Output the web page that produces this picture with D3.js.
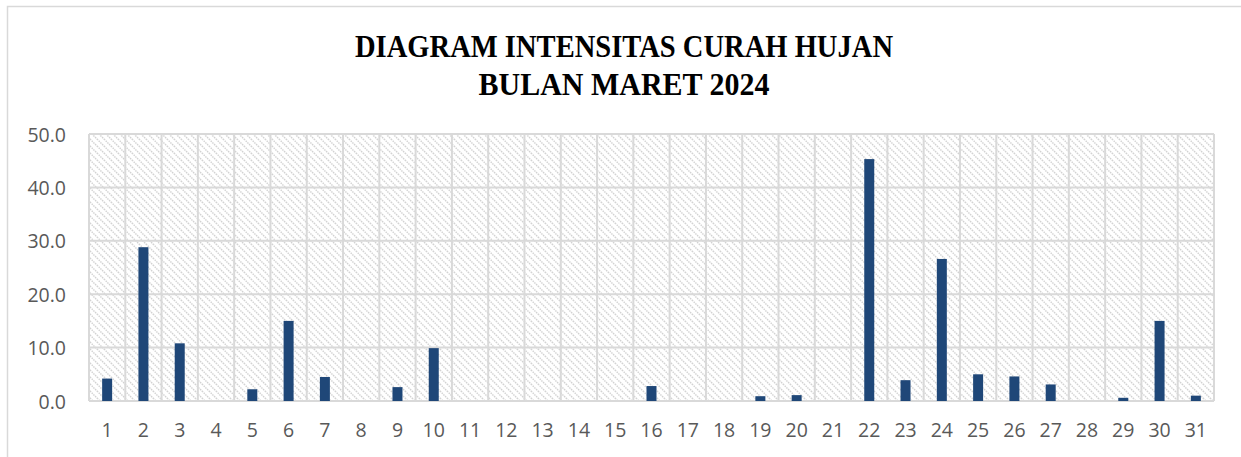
<!DOCTYPE html>
<html>
<head>
    <title>Diagram Intensitas Curah Hujan</title>
    <script src="https://d3js.org/d3.v7.min.js"></script>
    <style>
        body { margin: 0; background: #fff; }
        svg { display: block; }
    </style>
</head>
<body>
    <svg id="chart"></svg>

    <script>
        const titleLines = ["DIAGRAM INTENSITAS CURAH HUJAN", "BULAN MARET 2024"];
        const titleWidths = [538, 291];
        const days = d3.range(1, 32).map(String);
        const rainfall = [4.2, 28.8, 10.8, 0, 2.2, 15.0, 4.5, 0, 2.6, 9.9,
                          0, 0, 0, 0, 0, 2.8, 0, 0, 0.9, 1.1,
                          0, 45.3, 3.9, 26.6, 5.0, 4.6, 3.1, 0, 0.6, 15.0, 1.0];
        const yTicks = [0, 10, 20, 30, 40, 50];

        const data = days.map((d, i) => ({ day: d, value: rainfall[i] }));

        const width = 1241;
        const height = 457;
        const margin = { top: 134, right: 27, bottom: 56, left: 89 };

        const svg = d3.select("#chart").attr("width", width).attr("height", height);

        // outer chart frame (runs off the right and bottom edge)
        svg.append("rect")
            .attr("x", 7.5).attr("y", 6.5)
            .attr("width", width).attr("height", height)
            .attr("fill", "#fff")
            .attr("stroke", "#d9d9d9")
            .attr("stroke-width", 1.5);

        // diagonal hatch for plot area
        const defs = svg.append("defs");
        const pat = defs.append("pattern")
            .attr("id", "hatch")
            .attr("patternUnits", "userSpaceOnUse")
            .attr("width", 7).attr("height", 7);
        pat.append("rect").attr("width", 7).attr("height", 7).attr("fill", "#fff");
        pat.append("path")
            .attr("d", "M-1,-1 L8,8 M-1,6 L1,8 M6,-1 L8,1")
            .attr("stroke", "#d2d2d2")
            .attr("stroke-width", 1.4)
            .attr("stroke-dasharray", "1.5,0.9");

        const x = d3.scaleBand()
            .domain(days)
            .range([margin.left, width - margin.right])
            .paddingInner(0)
            .paddingOuter(0);

        const y = d3.scaleLinear()
            .domain([0, 50])
            .range([height - margin.bottom, margin.top]);

        svg.append("rect")
            .attr("x", margin.left)
            .attr("y", margin.top)
            .attr("width", width - margin.right - margin.left)
            .attr("height", y(0) - margin.top)
            .attr("fill", "url(#hatch)");

        // gridlines
        const grid = svg.append("g").attr("stroke", "#d9d9d9").attr("stroke-width", 2);
        grid.selectAll("line.h")
            .data(yTicks)
            .join("line")
            .attr("class", "h")
            .attr("x1", margin.left).attr("x2", width - margin.right)
            .attr("y1", d => y(d)).attr("y2", d => y(d));
        grid.selectAll("line.v")
            .data(days.concat(["end"]))
            .join("line")
            .attr("class", "v")
            .attr("x1", (d, i) => i < days.length ? x(d) : x.range()[1])
            .attr("x2", (d, i) => i < days.length ? x(d) : x.range()[1])
            .attr("y1", margin.top).attr("y2", y(0));

        // bars
        const barW = 10;
        svg.append("g")
            .selectAll("rect")
            .data(data)
            .join("rect")
            .attr("x", d => x(d.day) + x.bandwidth() / 2 - barW / 2)
            .attr("y", d => y(d.value))
            .attr("width", barW)
            .attr("height", d => y(0) - y(d.value))
            .attr("fill", "#1f4778");

        // y axis labels
        const yAxis = svg.append("g")
            .attr("transform", `translate(${margin.left - 23},0)`)
            .call(d3.axisLeft(y).tickValues(yTicks).tickFormat(d3.format(".1f")).tickSize(0).tickPadding(0));
        yAxis.select(".domain").remove();
        yAxis.selectAll("text")
            .attr("font-family", "'Open Sans', sans-serif")
            .attr("font-size", 19.5)
            .attr("fill", "#595959")
            .attr("dy", "0.36em");

        // x axis labels
        const xAxis = svg.append("g")
            .attr("transform", `translate(0,${y(0)})`)
            .call(d3.axisBottom(x).tickSize(0).tickPadding(22));
        xAxis.select(".domain").remove();
        xAxis.selectAll("text")
            .attr("font-family", "'Open Sans', sans-serif")
            .attr("font-size", 19.5)
            .attr("fill", "#595959");

        // title
        svg.append("g")
            .selectAll("text")
            .data(titleLines)
            .join("text")
            .attr("x", 624)
            .attr("y", (d, i) => 57 + i * 38)
            .attr("text-anchor", "middle")
            .attr("font-family", "'Liberation Serif', serif")
            .attr("font-weight", "bold")
            .attr("font-size", 31)
            .attr("textLength", (d, i) => titleWidths[i])
            .attr("lengthAdjust", "spacingAndGlyphs")
            .attr("fill", "#000")
            .text(d => d);
    </script>
</body>
</html>
